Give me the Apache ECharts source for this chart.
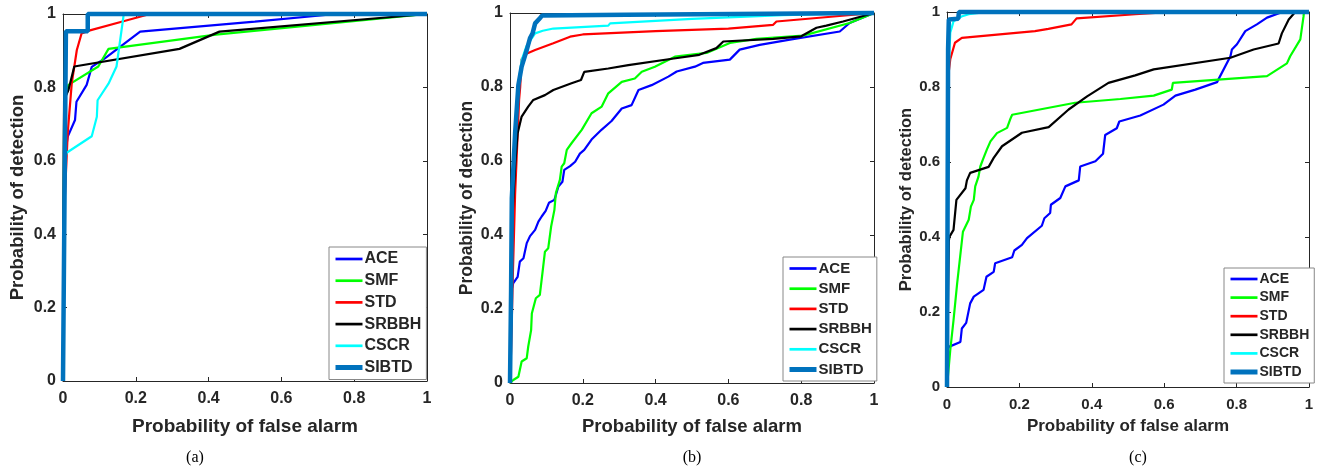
<!DOCTYPE html>
<html>
<head>
<meta charset="utf-8">
<script src="https://cdn.jsdelivr.net/npm/echarts@6/dist/echarts.min.js"></script>
<style>
html, body { margin: 0; padding: 0; background: #fff; }
#chart { width: 1319px; height: 470px; }
</style>
</head>
<body>
<div id="chart"></div>
<script>
// method names and colours (same order in every panel)
const methods = ['ACE', 'SMF', 'STD', 'SRBBH', 'CSCR', 'SIBTD']
const colors = ['#0000ff', '#00ff00', '#ff0000', '#000000', '#00ffff', '#0072bd']
const tickLabels = ['0', '0.2', '0.4', '0.6', '0.8', '1']
const captions = ['(a)', '(b)', '(c)']
const xTitle = 'Probability of false alarm'
const yTitle = 'Probability of detection'

// panel (a)  [Pf, Pd]
const aACE = [[0,0],[0.003,0.6],[0.013,0.666],[0.033,0.711],[0.037,0.761],[0.065,0.807],[0.079,0.856],[0.115,0.879],[0.212,0.952],[0.527,0.979],[0.75,1],[1,1]]
const aSMF = [[0,0],[0.003,0.7],[0.008,0.78],[0.015,0.807],[0.097,0.857],[0.125,0.905],[0.42,0.944],[1,1]]
const aSTD = [[0,0],[0.005,0.5],[0.013,0.676],[0.024,0.811],[0.038,0.902],[0.051,0.947],[0.069,0.954],[0.161,0.979],[0.239,1],[1,1]]
const aSRBBH = [[0,0],[0.002,0.62],[0.003,0.766],[0.015,0.793],[0.031,0.857],[0.32,0.905],[0.43,0.952],[1,1]]
const aCSCR = [[0,0],[0.005,0.6],[0.01,0.622],[0.079,0.667],[0.093,0.72],[0.095,0.765],[0.125,0.81],[0.147,0.857],[0.167,1],[1,1]]
const aSIBTD = [[0,0],[0.008,0.953],[0.068,0.953],[0.068,1],[1,1]]

// panel (b)
const bACE = [[0,0],[0.004,0.25],[0.009,0.27],[0.021,0.287],[0.027,0.328],[0.037,0.337],[0.046,0.378],[0.055,0.397],[0.069,0.414],[0.078,0.436],[0.087,0.45],[0.098,0.465],[0.107,0.487],[0.122,0.495],[0.133,0.531],[0.144,0.544],[0.149,0.576],[0.165,0.586],[0.179,0.598],[0.192,0.62],[0.204,0.63],[0.224,0.658],[0.252,0.685],[0.279,0.708],[0.307,0.742],[0.334,0.751],[0.353,0.792],[0.389,0.805],[0.435,0.828],[0.458,0.842],[0.508,0.855],[0.53,0.865],[0.604,0.874],[0.631,0.901],[0.686,0.914],[0.769,0.928],[0.906,0.95],[0.933,0.973],[1,1]]
const bSMF = [[0,0],[0.009,0.008],[0.023,0.017],[0.032,0.058],[0.046,0.067],[0.05,0.098],[0.058,0.143],[0.06,0.188],[0.071,0.229],[0.082,0.238],[0.089,0.296],[0.096,0.355],[0.105,0.364],[0.113,0.423],[0.122,0.468],[0.126,0.513],[0.137,0.549],[0.142,0.585],[0.149,0.594],[0.156,0.63],[0.169,0.648],[0.197,0.684],[0.224,0.729],[0.252,0.747],[0.27,0.783],[0.307,0.814],[0.343,0.823],[0.362,0.841],[0.398,0.855],[0.453,0.882],[0.54,0.892],[0.604,0.919],[0.677,0.93],[0.805,0.939],[0.933,0.973],[1,1]]
const bSTD = [[0,0],[0.003,0.09],[0.008,0.3],[0.014,0.51],[0.02,0.65],[0.025,0.766],[0.028,0.8],[0.032,0.875],[0.045,0.89],[0.069,0.9],[0.119,0.918],[0.165,0.936],[0.2,0.942],[0.4,0.951],[0.6,0.958],[0.723,0.968],[0.732,0.977],[1,1]]
const bSRBBH = [[0,0],[0.002,0.3],[0.009,0.495],[0.015,0.6],[0.021,0.675],[0.032,0.72],[0.05,0.747],[0.064,0.765],[0.096,0.778],[0.119,0.792],[0.169,0.81],[0.195,0.819],[0.204,0.841],[0.27,0.85],[0.325,0.859],[0.45,0.877],[0.52,0.887],[0.567,0.905],[0.586,0.923],[0.723,0.93],[0.8,0.937],[0.842,0.96],[0.869,0.966],[0.915,0.977],[1,1]]
const bCSCR = [[0,0],[0.003,0.3],[0.008,0.55],[0.015,0.7],[0.022,0.8],[0.032,0.873],[0.045,0.91],[0.069,0.945],[0.09,0.952],[0.119,0.958],[0.27,0.966],[0.275,0.972],[0.5,0.984],[0.75,0.994],[1,1]]
const bSIBTD = [[0,0],[0.003,0.25],[0.005,0.5],[0.014,0.675],[0.023,0.805],[0.032,0.855],[0.046,0.9],[0.055,0.932],[0.062,0.945],[0.069,0.972],[0.082,0.986],[0.088,0.993],[0.32,0.995],[0.325,1],[1,1]]

// panel (c)
const cACE = [[0,0],[0.002,0.1],[0.005,0.107],[0.037,0.12],[0.041,0.156],[0.053,0.171],[0.064,0.223],[0.074,0.241],[0.101,0.259],[0.109,0.294],[0.129,0.307],[0.133,0.33],[0.18,0.346],[0.186,0.364],[0.207,0.379],[0.221,0.397],[0.262,0.43],[0.269,0.45],[0.285,0.464],[0.287,0.486],[0.313,0.504],[0.327,0.535],[0.364,0.551],[0.368,0.588],[0.41,0.602],[0.431,0.622],[0.437,0.672],[0.469,0.69],[0.476,0.708],[0.534,0.724],[0.598,0.753],[0.631,0.777],[0.686,0.793],[0.746,0.813],[0.783,0.882],[0.787,0.9],[0.801,0.914],[0.824,0.949],[0.856,0.967],[0.884,0.985],[0.921,0.998],[0.93,1],[1,1]]
const cSMF = [[0,0],[0.009,0.098],[0.018,0.178],[0.028,0.276],[0.044,0.414],[0.06,0.446],[0.066,0.481],[0.074,0.499],[0.078,0.535],[0.087,0.561],[0.092,0.588],[0.101,0.611],[0.11,0.633],[0.12,0.655],[0.138,0.677],[0.166,0.691],[0.175,0.715],[0.18,0.726],[0.354,0.758],[0.479,0.768],[0.571,0.777],[0.621,0.793],[0.624,0.811],[0.884,0.829],[0.939,0.863],[0.948,0.882],[0.976,0.927],[0.985,0.989],[0.986,1],[1,1]]
const cSTD = [[0,0],[0.001,0.5],[0.003,0.8],[0.005,0.842],[0.009,0.874],[0.022,0.918],[0.041,0.931],[0.243,0.949],[0.28,0.955],[0.344,0.967],[0.358,0.983],[0.52,0.994],[0.62,1],[1,1]]
const cSRBBH = [[0,0],[0.003,0.25],[0.005,0.39],[0.007,0.401],[0.018,0.419],[0.026,0.499],[0.051,0.53],[0.055,0.551],[0.064,0.571],[0.115,0.587],[0.129,0.611],[0.152,0.642],[0.207,0.678],[0.281,0.693],[0.336,0.74],[0.387,0.775],[0.446,0.811],[0.52,0.831],[0.571,0.847],[0.783,0.878],[0.847,0.9],[0.916,0.916],[0.925,0.943],[0.944,0.98],[0.962,1],[1,1]]
const cCSCR = [[0,0],[0.001,0.5],[0.002,0.775],[0.009,0.945],[0.018,0.975],[0.04,0.988],[0.06,0.994],[0.11,1],[1,1]]
const cSIBTD = [[0,0],[0.003,0.9],[0.005,0.98],[0.031,0.982],[0.033,1],[1,1]]

const panelData = [
  [aACE, aSMF, aSTD, aSRBBH, aCSCR, aSIBTD],
  [bACE, bSMF, bSTD, bSRBBH, bCSCR, bSIBTD],
  [cACE, cSMF, cSTD, cSRBBH, cCSCR, cSIBTD]
]

// layout of each panel (pixels)
const panels = [
  {grid: {left: 63, top: 14, width: 364, height: 367}, tick: 16, xName: 19, yName: 18.5, xGap: 36, yGap: 36,
   legend: {left: 329, top: 247, font: 16, gap: 5.7}, caption: {x: 195, y: 458}},
  {grid: {left: 510, top: 13, width: 364, height: 370}, tick: 16, xName: 18.5, yName: 17.5, xGap: 34, yGap: 34,
   legend: {left: 783, top: 257, font: 15, gap: 5.2}, caption: {x: 692, y: 458}},
  {grid: {left: 947, top: 12, width: 362, height: 375}, tick: 15, xName: 17, yName: 16.5, xGap: 31, yGap: 31,
   legend: {left: 1224, top: 268, font: 14, gap: 4.6}, caption: {x: 1138, y: 458}}
]

const FONT = '"Liberation Sans", Arial, Helvetica, sans-serif'
const AXIS_COLOR = '#262626'
const lineWidth = (m) => m === 'SIBTD' ? 4.5 : 2.2

let chart = echarts.init(document.getElementById('chart'))

let grid = [], xAxis = [], yAxis = [], series = [], legend = [], graphic = []

const fmt = (v) => tickLabels[Math.round(v / 0.2)]

panels.forEach((p, i) => {
  grid.push(p.grid)
  const common = {
    type: 'value', gridIndex: i, min: 0, max: 1, interval: 0.2,
    splitLine: {show: false},
    axisLine: {show: true, onZero: false, lineStyle: {color: AXIS_COLOR, width: 1}},
    axisTick: {show: true, inside: true, length: 4, lineStyle: {color: AXIS_COLOR}}
  }
  // bottom / left: labelled axes
  xAxis.push(Object.assign({}, common, {
    position: 'bottom',
    name: xTitle, nameLocation: 'middle', nameGap: p.xGap,
    nameTextStyle: {fontFamily: FONT, fontWeight: 'bold', fontSize: p.xName, color: AXIS_COLOR},
    axisLabel: {formatter: fmt, margin: 10, fontFamily: FONT, fontWeight: 'bold', fontSize: p.tick, color: AXIS_COLOR}
  }))
  yAxis.push(Object.assign({}, common, {
    position: 'left',
    name: yTitle, nameLocation: 'middle', nameGap: p.yGap,
    nameTextStyle: {fontFamily: FONT, fontWeight: 'bold', fontSize: p.yName, color: AXIS_COLOR},
    axisLabel: {formatter: fmt, margin: 7, fontFamily: FONT, fontWeight: 'bold', fontSize: p.tick, color: AXIS_COLOR}
  }))
  // top / right: box with ticks only
  xAxis.push(Object.assign({}, common, {position: 'top', axisLabel: {show: false}}))
  yAxis.push(Object.assign({}, common, {position: 'right', axisLabel: {show: false}}))

  methods.forEach((m, k) => {
    series.push({
      name: m,
      type: 'line',
      xAxisIndex: i * 2,
      yAxisIndex: i * 2,
      data: panelData[i][k],
      symbol: 'none',
      clip: false,
      z: 2 + k,
      lineStyle: {color: colors[k], width: lineWidth(m)},
      itemStyle: {color: colors[k]}
    })
  })

  legend.push({
    data: methods.map((m, k) => ({name: m, lineStyle: {color: colors[k], width: lineWidth(m) + 0.5}})),
    orient: 'vertical',
    left: p.legend.left,
    top: p.legend.top,
    itemWidth: 27,
    itemHeight: 14,
    itemGap: p.legend.gap,
    padding: [4, 5, 4, 4],
    borderColor: '#888',
    borderWidth: 1,
    borderRadius: 0,
    backgroundColor: '#fff',
    selectedMode: false,
    // line series draw a circle in the legend icon, hide it, keep only the line
    itemStyle: {opacity: 0},
    textStyle: {fontFamily: FONT, fontWeight: 'bold', fontSize: p.legend.font, color: AXIS_COLOR, padding: [0, 0, 0, -3]}
  })

  graphic.push({
    type: 'text',
    x: p.caption.x,
    y: p.caption.y,
    style: {
      text: captions[i],
      fontFamily: '"Liberation Serif", "Times New Roman", serif',
      fontSize: 16,
      fill: '#000',
      align: 'center',
      verticalAlign: 'middle'
    }
  })
})

chart.setOption({
  animation: false,
  backgroundColor: '#fff',
  grid: grid,
  xAxis: xAxis,
  yAxis: yAxis,
  legend: legend,
  graphic: graphic,
  series: series
})
</script>
</body>
</html>
